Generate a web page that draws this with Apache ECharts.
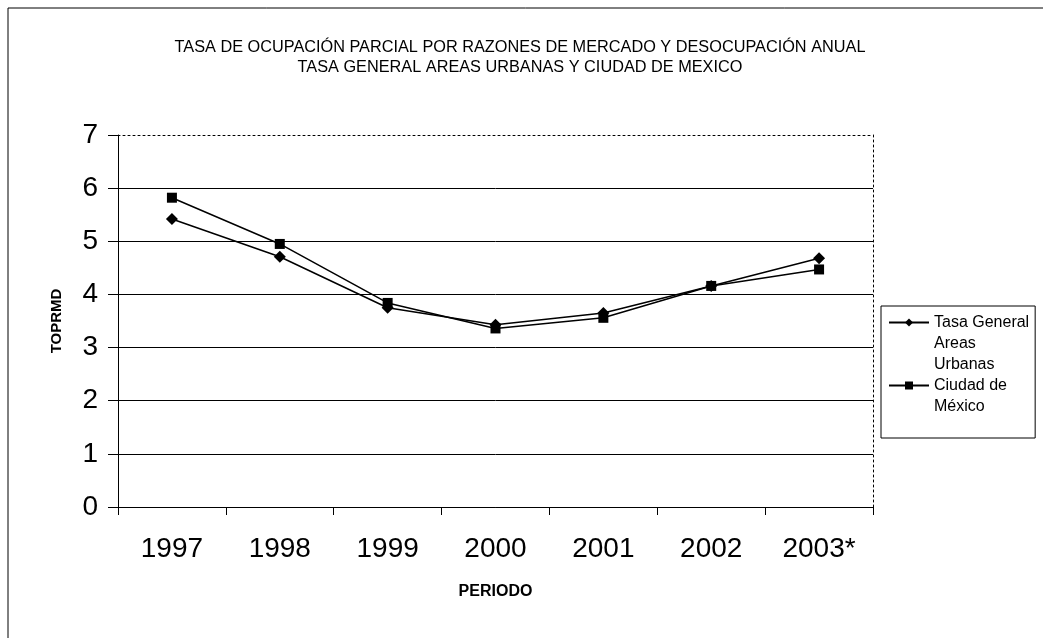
<!DOCTYPE html>
<html>
<head>
<meta charset="utf-8">
<script src="https://cdn.jsdelivr.net/npm/echarts@6/dist/echarts.min.js"></script>
<style>
  html, body { margin: 0; padding: 0; background: #fff; }
  #chart { width: 1043px; height: 638px; }
</style>
</head>
<body>
<div id="chart"></div>
<script>
  // data
  const periods = ['1997', '1998', '1999', '2000', '2001', '2002', '2003*'];
  const tasaGeneral = [5.42, 4.71, 3.75, 3.43, 3.65, 4.16, 4.68];
  const ciudadMexico = [5.82, 4.95, 3.84, 3.36, 3.56, 4.16, 4.47];
  const yTicks = [0, 1, 2, 3, 4, 5, 6, 7];

  const font = '"Liberation Sans", Arial, sans-serif';

  const chart = echarts.init(document.getElementById('chart'));

  // legend labels: blank lines on top so the icon sits level with the first line
  const legendLabels = {
    'Tasa General Areas Urbanas': '\n\nTasa General\nAreas\nUrbanas',
    'Ciudad de México': '\nCiudad de\nMéxico'
  };

  const option = {
    backgroundColor: '#fff',
    animation: false,
    title: {
      text: 'TASA DE OCUPACIÓN PARCIAL POR RAZONES DE MERCADO Y DESOCUPACIÓN ANUAL\nTASA GENERAL AREAS URBANAS Y CIUDAD DE MEXICO',
      left: 520,
      textAlign: 'center',
      top: 38,
      padding: 0,
      textStyle: { fontFamily: font, fontSize: 16.3, fontWeight: 'normal', color: '#000', lineHeight: 20 }
    },
    legend: {
      orient: 'vertical',
      left: 881,
      top: 306,
      padding: [-36, 6, 21, 7],
      itemWidth: 40,
      itemHeight: 10,
      itemGap: -21,
      borderColor: '#000',
      borderWidth: 1,
      backgroundColor: '#fff',
      textStyle: { fontFamily: font, fontSize: 16, color: '#000', lineHeight: 21 },
      formatter: function (name) { return legendLabels[name]; },
      data: ['Tasa General Areas Urbanas', 'Ciudad de México']
    },
    grid: { left: 118, right: 170, top: 135, bottom: 131 },
    xAxis: [{
      type: 'category',
      data: periods,
      boundaryGap: true,
      name: 'PERIODO',
      nameLocation: 'middle',
      nameGap: 77,
      nameTextStyle: { fontFamily: font, fontSize: 16, fontWeight: 'bold', color: '#000' },
      axisLine: { lineStyle: { color: '#000', width: 1 } },
      axisTick: { show: true, length: 8, lineStyle: { color: '#000' } },
      axisLabel: { fontFamily: font, fontSize: 28, color: '#000', margin: 28 },
      splitLine: { show: false }
    }, {
      type: 'category',
      data: periods,
      position: 'top',
      axisLine: { show: true, onZero: false, lineStyle: { color: '#000', type: [2, 3] } },
      axisTick: { show: false },
      axisLabel: { show: false }
    }],
    yAxis: [{
      type: 'value',
      min: 0,
      max: 7,
      interval: 1,
      name: 'TOPRMD',
      nameLocation: 'middle',
      nameGap: 54,
      nameTextStyle: { fontFamily: font, fontSize: 15, fontWeight: 'bold', color: '#000' },
      axisLine: { show: true, lineStyle: { color: '#000', width: 1 } },
      axisTick: { show: true, length: 10, lineStyle: { color: '#000' } },
      axisLabel: { fontFamily: font, fontSize: 28, color: '#000', margin: 20,
        formatter: function (v) { return yTicks.indexOf(v) >= 0 ? String(v) : ''; } },
      splitLine: { show: true, lineStyle: { color: ['#000', '#000', '#000', '#000', '#000', '#000', '#000', 'rgba(0,0,0,0)'], width: 1 } }
    }, {
      type: 'value',
      min: 0,
      max: 7,
      interval: 1,
      position: 'right',
      axisLine: { show: true, onZero: false, lineStyle: { color: '#000', type: [2, 3] } },
      axisTick: { show: false },
      axisLabel: { show: false },
      splitLine: { show: false }
    }],
    series: [{
      name: 'Tasa General Areas Urbanas',
      type: 'line',
      data: tasaGeneral,
      symbol: 'diamond',
      symbolSize: 12,
      lineStyle: { color: '#000', width: 1.5 },
      itemStyle: { color: '#000' },
      z: 3
    }, {
      name: 'Ciudad de México',
      type: 'line',
      data: ciudadMexico,
      symbol: 'rect',
      symbolSize: 10,
      lineStyle: { color: '#000', width: 1.5 },
      itemStyle: { color: '#000' },
      z: 2
    }],
    graphic: [
      { type: 'line', shape: { x1: 8, y1: 8, x2: 1043, y2: 8 }, style: { stroke: '#000', lineWidth: 1 } },
      { type: 'line', shape: { x1: 8, y1: 8, x2: 8, y2: 638 }, style: { stroke: '#000', lineWidth: 1 } }
    ]
  };

  chart.setOption(option);
</script>
</body>
</html>
